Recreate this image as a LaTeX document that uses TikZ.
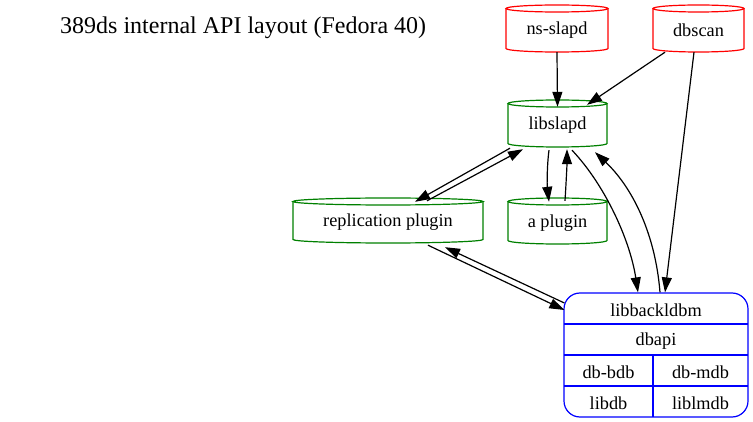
\documentclass[tikz,border=0pt]{standalone}
\usepackage{fontspec}
\setmainfont{Liberation Serif}
\usetikzlibrary{arrows.meta,calc}
\definecolor{gvred}{RGB}{255,0,0}
\definecolor{gvgreen}{RGB}{0,128,0}
\definecolor{gvblue}{RGB}{0,0,255}
\tikzset{
  conn/.style={draw=black,line width=1.2pt,-{Triangle[length=15pt,width=10pt]}},
  lbl/.style={font=\fontsize{18.3}{20}\selectfont,inner sep=0pt},
  cylbox/.style={inner sep=0pt},
}
% \cylnode{name}{cx}{cy}{w}{h}{color}{text}
\newcommand\cylnode[7]{%
  \pgfmathsetmacro\cL{#2-#4/2}%
  \pgfmathsetmacro\cR{#2+#4/2}%
  \pgfmathsetmacro\cT{#3-#5/2+3.5}%
  \pgfmathsetmacro\cB{#3+#5/2-3.5}%
  \pgfmathsetmacro\cBB{#3+#5/2}%
  \pgfmathsetmacro\kx{0.552*#4/2}%
  \pgfmathsetmacro\ky{0.552*3.5}%
  \draw[#6,line width=1.2pt] (\cL,\cT) -- (\cL,\cB)
     .. controls (\cL,\cB+\ky) and (#2-\kx,\cBB) .. (#2,\cBB)
     .. controls (#2+\kx,\cBB) and (\cR,\cB+\ky) .. (\cR,\cB) -- (\cR,\cT);
  \draw[#6,line width=1.2pt] (#2,\cT) ellipse ({#4/2} and 3.5);
  \node[cylbox,minimum width=#4pt,minimum height=#5pt] (#1) at (#2,#3) {};%
  \node[lbl] (#1-t) at ([yshift=-2pt]#1.center) {#7};%
}
\begin{document}
\begin{tikzpicture}[x=1pt,y=-1pt]
\useasboundingbox (0,0) rectangle (753,422);
\node[anchor=west,inner sep=0pt,font=\fontsize{24}{26}\selectfont] (title) at (60,28) {389ds internal API layout (Fedora 40)};

\cylnode{ns}{557}{28.5}{102}{47}{gvred}{ns-slapd}
\cylnode{dbs}{698.5}{28.5}{91}{47}{gvred}{dbscan}
\cylnode{lib}{557.5}{123.5}{99}{47}{gvgreen}{libslapd}
\cylnode{repl}{388}{220.5}{190}{45}{gvgreen}{replication plugin}
\cylnode{aplug}{557.5}{221}{99}{46}{gvgreen}{a plugin}

% record node
\node[draw=gvblue,line width=1.2pt,rounded corners=16pt,minimum width=184pt,minimum height=124pt,inner sep=0pt] (rec) at (656,355) {};
\draw[gvblue,line width=1.2pt] (564,324) -- (748,324);
\draw[gvblue,line width=1.2pt] (564,355) -- (748,355);
\draw[gvblue,line width=1.2pt] (564,386) -- (748,386);
\draw[gvblue,line width=1.2pt] (653,355) -- (653,417);
\node[lbl] (r1) at (656,310) {libbackldbm};
\node[lbl] (r2) at (656,341) {dbapi};
\node[lbl] (r3) at (608.5,372) {db-bdb};
\node[lbl] (r4) at (700.5,372) {db-mdb};
\node[lbl] (r5) at (608.5,403) {libdb};
\node[lbl] (r6) at (700.5,403) {liblmdb};

% connectors
\draw[conn] (ns.south) -- ([yshift=-7pt]lib.north);
\draw[conn] ([xshift=-33.5pt]dbs.south) -- ([xshift=29.5pt,yshift=-5pt]lib.north);
\draw[conn] ([xshift=-4.5pt]dbs.south) -- ([xshift=9pt]rec.north);
\draw[conn] ([xshift=-47.5pt,yshift=-1pt]lib.south) -- ([xshift=27pt,yshift=-4pt]repl.north);
\draw[conn] ([xshift=39pt,yshift=-3pt]repl.north) -- ([xshift=-34.5pt,yshift=-2pt]lib.south);
\draw[conn] ([xshift=-8.5pt,yshift=-3pt]lib.south) .. controls (547,165) and (547,185) .. ([xshift=-8.5pt,yshift=-4pt]aplug.north);
\draw[conn] ([xshift=7.5pt,yshift=-3pt]aplug.north) .. controls (566,185) and (567,165) .. ([xshift=9.5pt,yshift=-2pt]lib.south);
\draw[conn] ([xshift=14.5pt,yshift=-3pt]lib.south) .. controls (605,185) and (630,240) .. ([xshift=-18pt]rec.north);
\draw[conn] ([xshift=4pt]rec.north) .. controls (655,230) and (630,185) .. ([xshift=37.5pt,yshift=-5pt]lib.south);
\draw[conn] ([xshift=40pt,yshift=-2pt]repl.south) -- ([xshift=1pt,yshift=45pt]rec.west);
\draw[conn] ([xshift=1pt,yshift=52pt]rec.west) -- ([xshift=57pt,yshift=-4pt]repl.south);
\end{tikzpicture}
\end{document}
